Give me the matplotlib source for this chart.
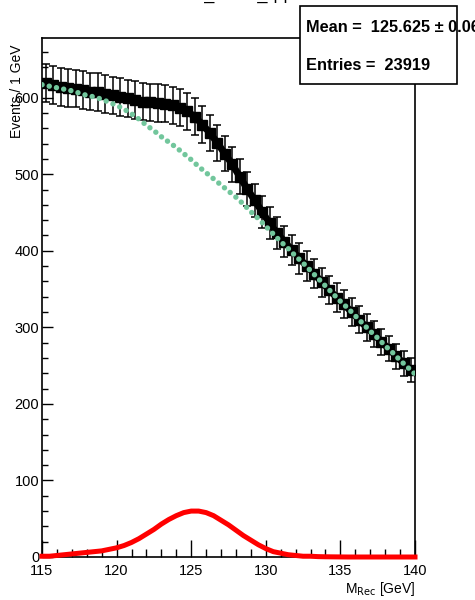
import numpy as np
import matplotlib
matplotlib.use('Agg')
import matplotlib.pyplot as plt
from matplotlib.patches import Rectangle
from matplotlib.ticker import MultipleLocator

#Data points, 0.5 GeV bins (bin centres)
data_mass = [115.25, 115.75, 116.25, 116.75, 117.25, 117.75, 118.25, 118.75, 119.25, 119.75,
	120.25, 120.75, 121.25, 121.75, 122.25, 122.75, 123.25, 123.75, 124.25, 124.75,
	125.25, 125.75, 126.25, 126.75, 127.25, 127.75, 128.25, 128.75, 129.25, 129.75,
	130.25, 130.75, 131.25, 131.75, 132.25, 132.75, 133.25, 133.75, 134.25, 134.75,
	135.25, 135.75, 136.25, 136.75, 137.25, 137.75, 138.25, 138.75, 139.25, 139.75]
data_events = [619, 616, 614, 613, 612, 610, 608, 607, 605, 603,
	601, 599, 597, 595, 594, 593, 592, 590, 587, 582,
	575, 565, 554, 541, 527, 513, 497, 481, 466, 451,
	436, 423, 412, 401, 390, 380, 370, 359, 349, 339,
	330, 320, 310, 300, 291, 281, 272, 262, 253, 244]

#Fit components, sampled every 0.5 GeV
curve_mass = [115.0, 115.5, 116.0, 116.5, 117.0, 117.5, 118.0, 118.5, 119.0, 119.5,
	120.0, 120.5, 121.0, 121.5, 122.0, 122.5, 123.0, 123.5, 124.0, 124.5,
	125.0, 125.5, 126.0, 126.5, 127.0, 127.5, 128.0, 128.5, 129.0, 129.5,
	130.0, 130.5, 131.0, 131.5, 132.0, 132.5, 133.0, 133.5, 134.0, 134.5,
	135.0, 135.5, 136.0, 136.5, 137.0, 137.5, 138.0, 138.5, 139.0, 139.5, 140.0]
background = [617, 615, 613, 611, 609, 606, 603, 601, 598, 594,
	590, 585, 579, 572, 564, 557, 549, 542, 535, 527,
	519, 510, 502, 494, 486, 478, 470, 461, 451, 442,
	432, 422, 412, 403, 393, 384, 374, 364, 354, 344,
	334, 325, 315, 305, 295, 286, 276, 267, 257, 248, 239]
signal = [1, 1, 2, 3, 4, 5, 6, 7, 8, 10,
	12, 15, 19, 24, 30, 36, 43, 49, 54, 58,
	60, 60, 58, 54, 48, 42, 35, 28, 22, 16,
	11, 7, 5, 3, 2, 1, 1, 0.5, 0.3, 0.2,
	0.1, 0, 0, 0, 0, 0, 0, 0, 0, 0, 0]

x_ticks = [115, 120, 125, 130, 135, 140]
y_ticks = [0, 100, 200, 300, 400, 500, 600]

plt.rcParams['font.family'] = ['Liberation Sans', 'DejaVu Sans']

fig = plt.figure(figsize=(4.75, 6), dpi=100)
W, H = 475.0, 600.0
ax = fig.add_axes([42/W, 1 - 557/H, (415 - 42)/W, (557 - 38)/H])

#Data with poisson errors, joined by a thick line so it reads as a band
ax.plot(data_mass, data_events, color='black', lw=5, solid_capstyle='butt', zorder=2)
ax.errorbar(data_mass, data_events, yerr=np.sqrt(data_events), fmt='s', color='black',
	markersize=7.2, elinewidth=1.1, capsize=3.0, capthick=1.1, zorder=3)

#Background (dotted) and signal (solid)
ax.plot(curve_mass, background, color='#72c69c', lw=3.9, linestyle=(0, (0.01, 1.35)),
	dash_capstyle='round', zorder=4)
ax.plot(curve_mass, signal, color='#ff0000', lw=3.6, zorder=5, clip_on=False)

ax.set_xlim(115, 140)
ax.set_ylim(0, 678)
ax.set_xticks(x_ticks)
ax.set_yticks(y_ticks)
ax.xaxis.set_minor_locator(MultipleLocator(1))
ax.yaxis.set_minor_locator(MultipleLocator(20))
ax.tick_params(axis='x', which='major', direction='in', length=12, width=1, labelsize=10.5, pad=5)
ax.tick_params(axis='x', which='minor', direction='in', length=6, width=1)
ax.tick_params(axis='y', which='major', direction='in', length=8, width=1, labelsize=10.5, pad=2)
ax.tick_params(axis='y', which='minor', direction='in', length=4, width=1)
for s in ax.spines.values():
	s.set_linewidth(1.2)

#Axis titles placed like ROOT does
fig.text(17/W, 1 - 44/H, 'Events / 1 GeV', rotation=90, ha='center', va='top', fontsize=10)
fig.text(415/W, 1 - 589/H, r'M$_{\mathrm{Rec}}$ [GeV]', ha='right', va='center', fontsize=10)

#Title, clipped at the top edge
fig.text(0.47, 1 + 6/H, 'Mrecoil_mass_qqH', ha='center', va='center', fontsize=13)

#Stats box
box = Rectangle((300/W, 1 - 84/H), 157/W, 78/H, transform=fig.transFigure,
	facecolor='white', edgecolor='black', lw=1.2, zorder=10)
fig.patches.append(box)
fig.text(306/W, 1 - 27/H, u'Mean =  125.625 \u00b1 0.066', ha='left', va='center',
	fontsize=11.8, fontweight='bold', zorder=11)
fig.text(306/W, 1 - 66/H, 'Entries =  23919', ha='left', va='center',
	fontsize=11.8, fontweight='bold', zorder=11)

fig.savefig('out.png', dpi=100)
